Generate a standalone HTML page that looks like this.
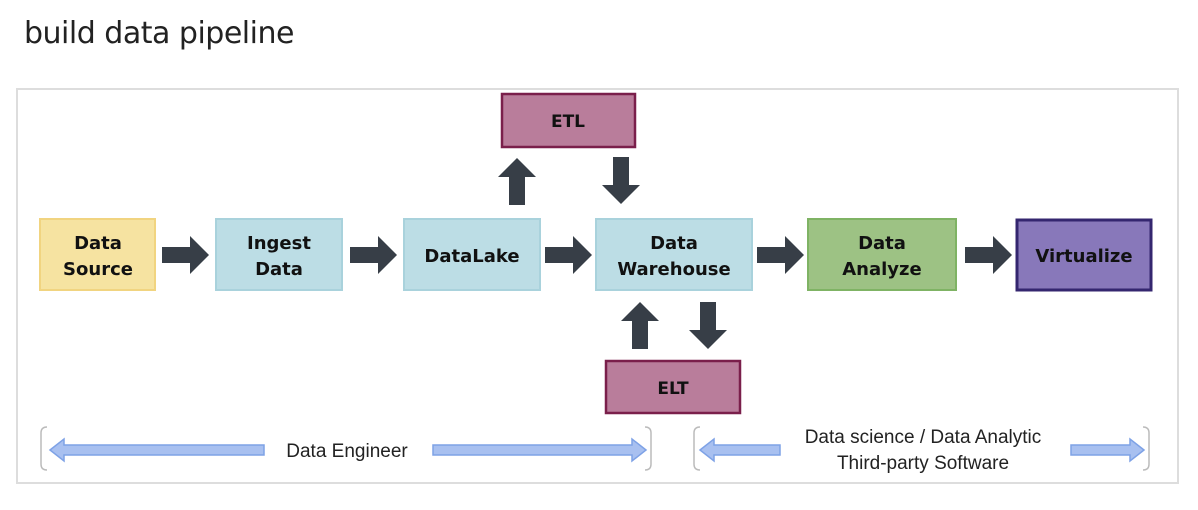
<!DOCTYPE html>
<html><head><meta charset="utf-8"><style>
html,body{margin:0;padding:0;background:#fff;width:1198px;height:510px;overflow:hidden}
.d{font-family:"DejaVu Sans","Liberation Sans",sans-serif}
.l{font-family:"Liberation Sans",Arial,sans-serif}
</style></head><body>
<svg width="1198" height="510" viewBox="0 0 1198 510" xmlns="http://www.w3.org/2000/svg">
<defs>
<g id="ha"><polygon points="0,-8 28,-8 28,-19 47,0 28,19 28,8 0,8" fill="#373e47"/></g>
</defs>
<text class="d" x="24" y="43" font-size="30" fill="#222" style="letter-spacing:-0.5px">build data pipeline</text>
<rect x="17" y="89" width="1161" height="394" fill="#fff" stroke="#ddd" stroke-width="2"/>
<g class="d" font-weight="bold" font-size="18" fill="#111" text-anchor="middle">
<rect x="40" y="219" width="115" height="71" fill="#f6e3a1" stroke="#f1d480" stroke-width="2"/>
<text x="98" y="249">Data</text><text x="98" y="275">Source</text>
<rect x="216" y="219" width="126" height="71" fill="#bcdde5" stroke="#a9d2dc" stroke-width="2"/>
<text x="279" y="249">Ingest</text><text x="279" y="275">Data</text>
<rect x="404" y="219" width="136" height="71" fill="#bcdde5" stroke="#a9d2dc" stroke-width="2"/>
<text x="472" y="262">DataLake</text>
<rect x="596" y="219" width="156" height="71" fill="#bcdde5" stroke="#a9d2dc" stroke-width="2"/>
<text x="674" y="249">Data</text><text x="674" y="275">Warehouse</text>
<rect x="808" y="219" width="148" height="71" fill="#9dc284" stroke="#7fb364" stroke-width="2"/>
<text x="882" y="249">Data</text><text x="882" y="275">Analyze</text>
<rect x="1017" y="220" width="134" height="70" fill="#8878ba" stroke="#34266f" stroke-width="3"/>
<text x="1084" y="262">Virtualize</text>
<rect x="502" y="94" width="133" height="53" fill="#b97d9b" stroke="#7a1f4b" stroke-width="2.5"/>
<text x="568" y="127" font-size="17">ETL</text>
<rect x="606" y="361" width="134" height="52" fill="#b97d9b" stroke="#7a1f4b" stroke-width="2.5"/>
<text x="673" y="394" font-size="17">ELT</text>
</g>
<use href="#ha" transform="translate(162,255)"/>
<use href="#ha" transform="translate(350,255)"/>
<use href="#ha" transform="translate(545,255)"/>
<use href="#ha" transform="translate(757,255)"/>
<use href="#ha" transform="translate(965,255)"/>
<use href="#ha" transform="translate(517,205) rotate(-90)"/>
<use href="#ha" transform="translate(621,157) rotate(90)"/>
<use href="#ha" transform="translate(640,349) rotate(-90)"/>
<use href="#ha" transform="translate(708,302) rotate(90)"/>
<g fill="none" stroke="#bbb" stroke-width="1.5">
<path d="M47,427 Q41,427 41,433 L41,464 Q41,470 47,470"/>
<path d="M645,427 Q651,427 651,433 L651,464 Q651,470 645,470"/>
<path d="M700,427 Q694,427 694,433 L694,464 Q694,470 700,470"/>
<path d="M1143,427 Q1149,427 1149,433 L1149,464 Q1149,470 1143,470"/>
</g>
<g fill="#a8c0f0" stroke="#7ea2e6" stroke-width="1.5">
<polygon points="50,450 64,439 64,445 264,445 264,455 64,455 64,461"/>
<polygon points="646,450 632,439 632,445 433,445 433,455 632,455 632,461"/>
<polygon points="700,450 714,439 714,445 780,445 780,455 714,455 714,461"/>
<polygon points="1144,450 1130,439 1130,445 1071,445 1071,455 1130,455 1130,461"/>
</g>
<g class="l" font-size="19" fill="#222" text-anchor="middle">
<text x="347" y="457">Data Engineer</text>
<text x="923" y="443">Data science / Data Analytic</text>
<text x="923" y="469">Third-party Software</text>
</g>
</svg>
</body></html>
